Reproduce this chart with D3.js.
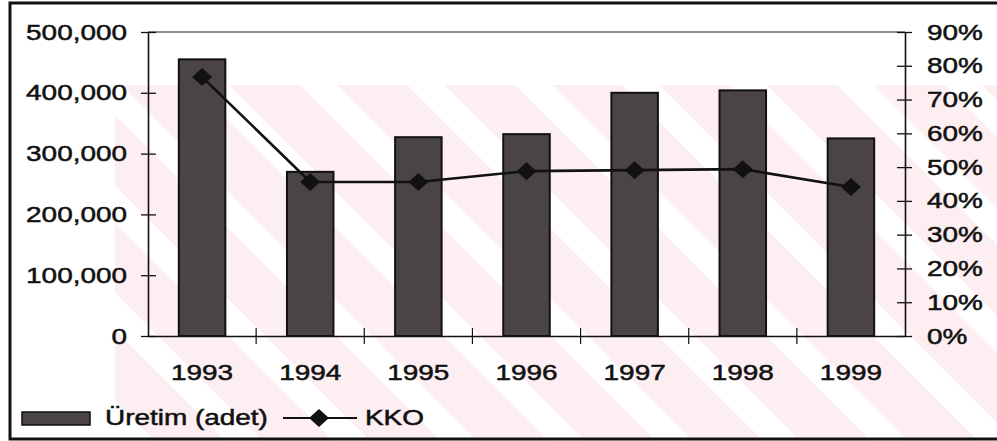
<!DOCTYPE html>
<html>
<head>
<meta charset="utf-8">
<script src="https://cdn.jsdelivr.net/npm/d3@7"></script>
<style>
  body { margin: 0; background: #fff; }
  svg text { font-family: "Liberation Sans", Arial, sans-serif; fill: #111; }
</style>
</head>
<body>
<script>
const w = 997;
const h = 441;

// chart values
const years = ["1993", "1994", "1995", "1996", "1997", "1998", "1999"];
const production = [455000, 270000, 327000, 332000, 400000, 404000, 325000];
const kko = [0.767, 0.456, 0.456, 0.488, 0.491, 0.494, 0.441];
const leftTicks = [0, 100000, 200000, 300000, 400000, 500000];
const rightTicks = [0, 0.1, 0.2, 0.3, 0.4, 0.5, 0.6, 0.7, 0.8, 0.9];
const legendLabels = ["Üretim (adet)", "KKO"];

const margin = {top: 32, right: 92, bottom: 105, left: 148};
const sx = 1.27; // glyphs in the scan are stretched sideways

const svg = d3.select("body")
    .append("svg")
    .attr("width", w)
    .attr("height", h)
    ;

// pale watermark stripes behind everything
const defs = svg.append("defs");
const pat = defs.append("pattern")
    .attr("id", "stripes")
    .attr("patternUnits", "userSpaceOnUse")
    .attr("width", 76)
    .attr("height", 76)
    .attr("patternTransform", "rotate(-45)")
    ;
pat.append("rect").attr("width", 76).attr("height", 76).attr("fill", "#fdeef1");
pat.append("rect").attr("x", 0).attr("width", 26).attr("height", 76).attr("fill", "#fff");

svg.append("rect")
    .attr("x", 115)
    .attr("y", 85)
    .attr("width", w - 115)
    .attr("height", h - 85)
    .attr("fill", "url(#stripes)")
    ;

const x = d3.scaleBand()
    .domain(years)
    .range([margin.left, w - margin.right])
    .padding(0)
    ;

const yLeft = d3.scaleLinear()
    .domain([0, 500000])
    .range([h - margin.bottom, margin.top])
    ;

const yRight = d3.scaleLinear()
    .domain([0, 0.9])
    .range([h - margin.bottom, margin.top])
    ;

// top frame line
svg.append("line")
    .attr("x1", margin.left)
    .attr("x2", w - margin.right)
    .attr("y1", margin.top)
    .attr("y2", margin.top)
    .attr("stroke", "#666")
    .attr("stroke-width", 1.5)
    ;

// bars
const barW = x.bandwidth() * 0.43;
svg.selectAll("rect.bar")
    .data(production)
    .enter()
    .append("rect")
    .attr("class", "bar")
    .attr("x", (d, i) => x(years[i]) + x.bandwidth() / 2 - barW / 2)
    .attr("y", d => yLeft(d))
    .attr("width", barW)
    .attr("height", d => yLeft(0) - yLeft(d))
    .attr("fill", "#4a4448")
    .attr("stroke", "#111")
    .attr("stroke-width", 2)
    ;

// axes
const leftAxis = d3.axisLeft(yLeft)
    .tickValues(leftTicks)
    .tickFormat(d3.format(","))
    .tickSizeOuter(0)
    ;
const gl = svg.append("g")
    .attr("transform", `translate(${margin.left},0)`)
    .call(leftAxis)
    ;

const rightAxis = d3.axisRight(yRight)
    .tickValues(rightTicks)
    .tickFormat(d3.format(".0%"))
    .tickSizeOuter(0)
    ;
const gr = svg.append("g")
    .attr("transform", `translate(${w - margin.right},0)`)
    .call(rightAxis)
    ;

const bottomAxis = d3.axisBottom(x)
    .tickSize(0)
    .tickSizeOuter(0)
    .tickPadding(28)
    ;
const gb = svg.append("g")
    .attr("transform", `translate(0,${h - margin.bottom})`)
    .call(bottomAxis)
    ;

[gl, gr, gb].forEach(g => {
    g.select(".domain").attr("stroke", "#111").attr("stroke-width", 1.6);
    g.selectAll("text")
        .attr("font-size", 22)
        .attr("font-family", "Liberation Sans, Arial, sans-serif")
        .attr("fill", "#111")
        .attr("stroke", "#111")
        .attr("stroke-width", 0.5);
});
gl.selectAll(".tick line").attr("x1", 8).attr("x2", -7).attr("stroke", "#111").attr("stroke-width", 1.3);
gr.selectAll(".tick line").attr("x1", -8).attr("x2", 7).attr("stroke", "#111").attr("stroke-width", 1.3);
gl.selectAll(".tick text").attr("x", -21 / sx).attr("transform", `scale(${sx},1)`);
gr.selectAll(".tick text").attr("x", 22 / sx).attr("transform", `scale(${sx},1)`);
gb.selectAll(".tick text").attr("transform", `scale(${sx},1)`).attr("dy", "0.71em");
gb.selectAll(".tick").each(function () {
    const t = d3.select(this);
    const tr = t.attr("transform").match(/translate\(([-\d.]+),/);
    const cx = +tr[1];
    t.attr("transform", "translate(0,0)");
    t.select("text").attr("x", cx / sx);
});

// category boundary ticks on the x axis
svg.selectAll("line.xtick")
    .data(years.slice(1))
    .enter()
    .append("line")
    .attr("class", "xtick")
    .attr("x1", d => x(d))
    .attr("x2", d => x(d))
    .attr("y1", h - margin.bottom - 8)
    .attr("y2", h - margin.bottom + 8)
    .attr("stroke", "#111")
    .attr("stroke-width", 1.2)
    ;

// KKO line
const line = d3.line()
    .x((d, i) => x(years[i]) + x.bandwidth() / 2)
    .y(d => yRight(d))
    ;
svg.append("path")
    .datum(kko)
    .attr("d", line)
    .attr("fill", "none")
    .attr("stroke", "#111")
    .attr("stroke-width", 2.6)
    ;
const diamond = "M0,-9L10,0L0,9L-10,0Z";
svg.selectAll("path.marker")
    .data(kko)
    .enter()
    .append("path")
    .attr("class", "marker")
    .attr("d", diamond)
    .attr("transform", (d, i) => `translate(${x(years[i]) + x.bandwidth() / 2},${yRight(d)})`)
    .attr("fill", "#111")
    ;

// legend
const lg = svg.append("g");
lg.append("rect")
    .attr("x", 22)
    .attr("y", 412)
    .attr("width", 68)
    .attr("height", 13)
    .attr("fill", "#4a4448")
    .attr("stroke", "#111")
    .attr("stroke-width", 1.5)
    ;
lg.append("text")
    .attr("x", 105 / sx)
    .attr("y", 425)
    .attr("font-size", 22)
    .attr("stroke", "#111")
    .attr("stroke-width", 0.5)
    .attr("transform", `scale(${sx},1)`)
    .text(legendLabels[0])
    ;
lg.append("line")
    .attr("x1", 283)
    .attr("x2", 357)
    .attr("y1", 418)
    .attr("y2", 418)
    .attr("stroke", "#111")
    .attr("stroke-width", 2.2)
    ;
lg.append("path")
    .attr("d", diamond)
    .attr("transform", "translate(319,418)")
    .attr("fill", "#111")
    ;
lg.append("text")
    .attr("x", 365 / sx)
    .attr("y", 425)
    .attr("font-size", 22)
    .attr("stroke", "#111")
    .attr("stroke-width", 0.5)
    .attr("transform", `scale(${sx},1)`)
    .text(legendLabels[1])
    ;

// outer frame of the scanned figure
svg.append("rect")
    .attr("x", 10)
    .attr("y", 3)
    .attr("width", w - 8)
    .attr("height", 436)
    .attr("fill", "none")
    .attr("stroke", "#111")
    .attr("stroke-width", 3)
    ;
</script>
</body>
</html>
